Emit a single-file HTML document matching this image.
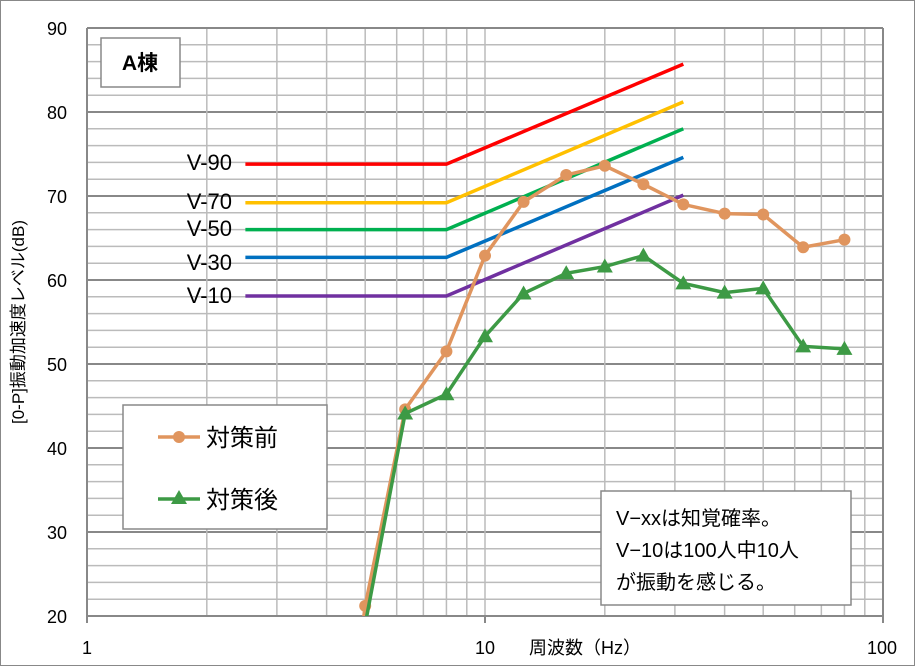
<!DOCTYPE html>
<html><head><meta charset="utf-8"><style>
body{margin:0;background:#fff;}
svg{display:block;font-family:"Liberation Sans","Noto Sans CJK JP",sans-serif;}
</style></head><body>
<svg id="s" width="915" height="666" viewBox="0 0 915 666" xmlns="http://www.w3.org/2000/svg">
<rect x="0.5" y="0.5" width="914" height="665" fill="#fff" stroke="#888" stroke-width="1"/>
<g id="grid"></g>
<g id="series"></g>
<rect x="101" y="38" width="79" height="49" fill="#fff" stroke="#888" stroke-width="1.5"/>
<text x="140" y="70" font-size="21" font-weight="bold" text-anchor="middle">A棟</text>
<g font-size="22" text-anchor="end" fill="#000">
<text x="232" y="170">V-90</text>
<text x="232" y="209">V-70</text>
<text x="232" y="236">V-50</text>
<text x="232" y="270">V-30</text>
<text x="232" y="303">V-10</text>
</g>
<g font-size="18" text-anchor="end">
<text x="67" y="35">90</text><text x="67" y="119">80</text><text x="67" y="203">70</text>
<text x="67" y="287">60</text><text x="67" y="371">50</text><text x="67" y="455">40</text>
<text x="67" y="539">30</text><text x="67" y="623">20</text>
</g>
<g font-size="18" text-anchor="middle">
<text x="87" y="654">1</text><text x="485" y="654">10</text><text x="882" y="654">100</text>
<text x="585" y="654">周波数（Hz）</text>
</g>
<text transform="translate(24,322) rotate(-90)" font-size="17" text-anchor="middle">[0-P]振動加速度レベル(dB)</text>
<rect x="123" y="405" width="204" height="124" fill="#fff" stroke="#888" stroke-width="1.5"/>
<line x1="158" y1="437" x2="200" y2="437" stroke="#E0955E" stroke-width="3.5"/>
<circle cx="179" cy="437" r="6" fill="#E0955E"/>
<text x="206" y="446" font-size="24">対策前</text>
<line x1="158" y1="499" x2="200" y2="499" stroke="#3D9A45" stroke-width="3.5"/>
<polygon points="179,490 187,504 171,504" fill="#3D9A45"/>
<text x="206" y="508" font-size="24">対策後</text>
<rect x="601" y="491" width="250" height="114" fill="#fff" stroke="#888" stroke-width="1.5"/>
<g font-size="20">
<text x="616" y="525">V−xxは知覚確率。</text>
<text x="616" y="557">V−10は100人中10人</text>
<text x="616" y="589">が振動を感じる。</text>
</g>
</svg>
<script>
const NS="http://www.w3.org/2000/svg";
const X=f=>87+398*Math.log10(f), Y=v=>616-(v-20)*8.4;
const g=document.getElementById('grid'), s=document.getElementById('series');
function el(p,t,a){const e=document.createElementNS(NS,t);for(const k in a)e.setAttribute(k,a[k]);p.appendChild(e);return e;}
for(let v=20;v<=90;v+=2){const maj=v%10==0;el(g,'line',{x1:87,x2:883,y1:Y(v),y2:Y(v),stroke:maj?'#888':'#bbb','stroke-width':maj?2:1.5});}
for(let d of [1,10])for(let k=2;k<=10;k++){el(g,'line',{x1:X(d*k),x2:X(d*k),y1:28,y2:616,stroke:'#bbb','stroke-width':1.5});}
[1,100].forEach(f=>el(g,'line',{x1:X(f),x2:X(f),y1:28,y2:623,stroke:'#888','stroke-width':2}));
el(g,'line',{x1:X(10),x2:X(10),y1:616,y2:623,stroke:'#888','stroke-width':2});
el(g,'line',{x1:87,x2:883,y1:616,y2:616,stroke:'#888','stroke-width':2});
el(g,'line',{x1:87,x2:883,y1:28,y2:28,stroke:'#888','stroke-width':2});
const vl=[['#7030A0',58.1,70.1],['#0070C0',62.7,74.6],['#00B050',66,78],['#FFC000',69.2,81.2],['#FF0000',73.8,85.7]];
vl.forEach(([c,a,b])=>el(s,'polyline',{points:`${X(2.5)},${Y(a)} ${X(8)},${Y(a)} ${X(31.5)},${Y(b)}`,fill:'none',stroke:c,'stroke-width':3.5}));
const F=[5,6.3,8,10,12.5,16,20,25,31.5,40,50,63,80];
const A=[21.2,44.6,51.5,62.9,69.3,72.5,73.6,71.4,69,67.9,67.8,63.9,64.8];
const B=[19,44.1,46.4,53.3,58.4,60.8,61.6,62.9,59.6,58.5,59,52.1,51.8];
const clip=el(document.getElementById('s'),'clipPath',{id:'c'});el(clip,'rect',{x:87,y:28,width:796,height:588});
const sa=el(s,'g',{'clip-path':'url(#c)'});
el(sa,'polyline',{points:`${X(4.9)},${Y(18)} `+F.map((f,i)=>X(f)+','+Y(A[i])).join(' '),fill:'none',stroke:'#E0955E','stroke-width':3.5});
F.forEach((f,i)=>el(sa,'circle',{cx:X(f),cy:Y(A[i]),r:6,fill:'#E0955E'}));
el(sa,'polyline',{points:F.map((f,i)=>X(f)+','+Y(B[i])).join(' '),fill:'none',stroke:'#3D9A45','stroke-width':3.5});
F.forEach((f,i)=>{const x=X(f),y=Y(B[i]);el(sa,'polygon',{points:`${x},${y-8} ${x+8},${y+6} ${x-8},${y+6}`,fill:'#3D9A45'});});
</script>
</body></html>
